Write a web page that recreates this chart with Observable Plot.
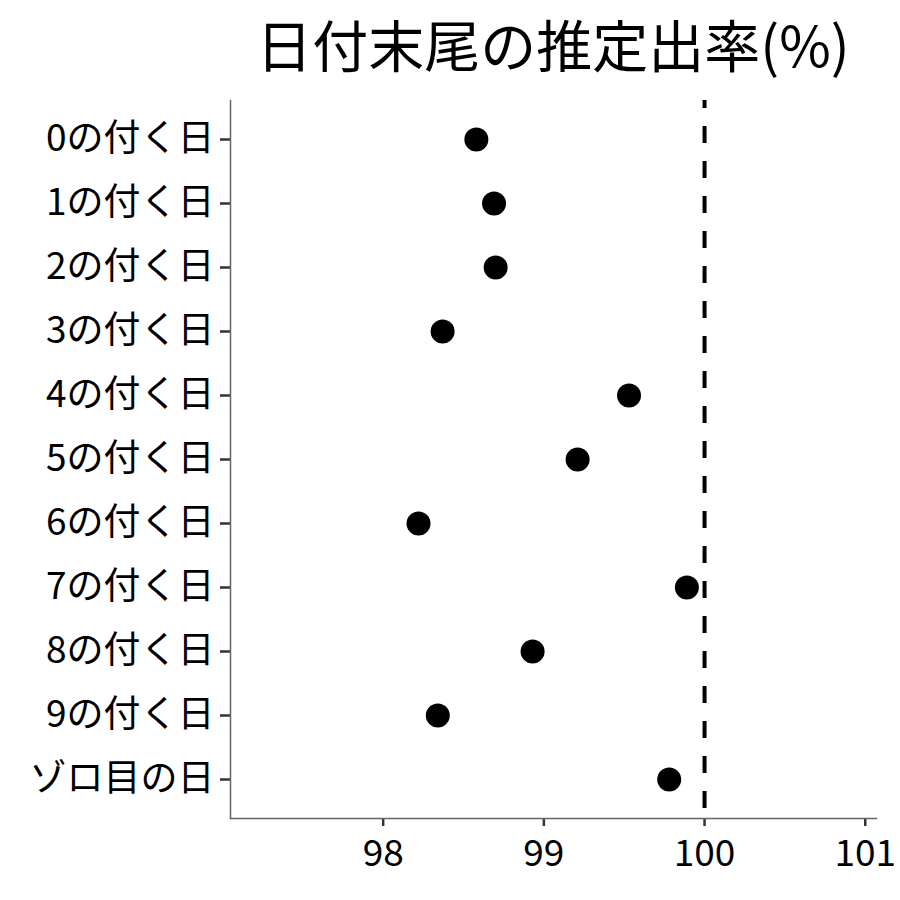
<!DOCTYPE html>
<html>
<head>
<meta charset="utf-8">
<script src="https://cdn.jsdelivr.net/npm/d3@7"></script>
<script src="https://cdn.jsdelivr.net/npm/@observablehq/plot@0.6"></script>
<style>
  body { margin: 0; background: #fff; font-family: "Noto Sans CJK JP", sans-serif; }
  #title { height: 95px; width: 646px; margin-left: 230px; box-sizing: border-box; padding-top: 10px; text-align: center; font-size: 56px; line-height: 66px; color: #000; white-space: nowrap; overflow: visible; }
</style>
</head>
<body>
<div id="title">日付末尾の推定出率(%)</div>
<div id="chart"></div>
<script>
const categories = ["0の付く日","1の付く日","2の付く日","3の付く日","4の付く日","5の付く日","6の付く日","7の付く日","8の付く日","9の付く日","ゾロ目の日"];
const rates = [98.58, 98.69, 98.70, 98.37, 99.53, 99.21, 98.22, 99.89, 98.93, 98.34, 99.78];
const xTicks = [98, 99, 100, 101];
const reference = 100;

const data = categories.map((c, i) => ({category: c, rate: rates[i]}));

const chart = Plot.plot({
  width: 900,
  height: 805,
  marginLeft: 230,
  marginRight: 24,
  marginTop: 5,
  marginBottom: 82,
  style: {fontFamily: "'Noto Sans CJK JP', sans-serif", fontSize: "37px", color: "#000", background: "#fff"},
  x: {domain: [97.05, 101.07], ticks: xTicks, tickFormat: d => String(d)},
  y: {type: "point", domain: categories, padding: 0.58},
  marks: [
    Plot.axisX({ticks: xTicks, tickFormat: d => String(d), tickSize: 8, tickPadding: 13, stroke: "#333", strokeWidth: 2.5, fontSize: 37, fill: "#000", label: null}),
    Plot.axisY({tickSize: 10, tickPadding: 6, stroke: "#333", strokeWidth: 2.5, fontSize: 37, fill: "#000", label: null}),
    Plot.frame({anchor: "left", stroke: "#666", strokeWidth: 1.5}),
    Plot.frame({anchor: "bottom", stroke: "#666", strokeWidth: 1.5}),
    Plot.ruleX([reference], {stroke: "#000", strokeWidth: 4, strokeDasharray: "17,18", strokeDashoffset: 9}),
    Plot.dot(data, {x: "rate", y: "category", r: 12, fill: "#000", stroke: "none"})
  ]
});
document.getElementById("chart").appendChild(chart);
</script>
</body>
</html>
